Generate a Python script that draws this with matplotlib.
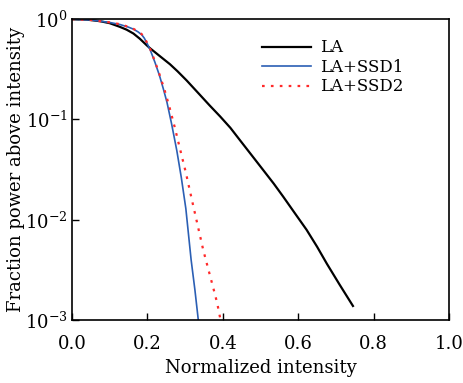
import numpy as np
import matplotlib
matplotlib.use("Agg")
import matplotlib.pyplot as plt

# curves (x: normalized intensity, y: fraction of power above it)
la_x = [0.0, 0.04, 0.074, 0.1, 0.127, 0.145, 0.163, 0.18, 0.198, 0.207, 0.23, 0.26,
        0.28, 0.304, 0.338, 0.365, 0.393, 0.42, 0.446, 0.475, 0.507, 0.535, 0.56,
        0.59, 0.622, 0.65, 0.676, 0.71, 0.745]
la_y = [1.0, 0.989, 0.955, 0.912, 0.838, 0.785, 0.719, 0.638, 0.55, 0.513, 0.437,
        0.355, 0.302, 0.245, 0.178, 0.138, 0.107, 0.0825, 0.0617, 0.0447, 0.0313,
        0.0229, 0.0170, 0.01175, 0.00794, 0.00537, 0.00363, 0.00224, 0.00138]

ssd1_x = [0.0, 0.05, 0.074, 0.1, 0.127, 0.15, 0.163, 0.175, 0.185, 0.192, 0.2,
          0.207, 0.22, 0.232, 0.242, 0.252, 0.264, 0.278, 0.29, 0.302, 0.316, 0.326,
          0.335]
ssd1_y = [1.0, 0.982, 0.955, 0.927, 0.885, 0.832, 0.795, 0.748, 0.70, 0.645, 0.565,
          0.50, 0.372, 0.275, 0.204, 0.148, 0.0912, 0.049, 0.0263, 0.0129, 0.00398,
          0.0020, 0.0010]

ssd2_x = [0.0, 0.05, 0.074, 0.1, 0.127, 0.15, 0.163, 0.175, 0.185, 0.192, 0.2,
          0.207, 0.22, 0.232, 0.245, 0.258, 0.272, 0.285, 0.302, 0.318, 0.333, 0.348,
          0.362, 0.375, 0.385, 0.394]
ssd2_y = [1.0, 0.982, 0.955, 0.929, 0.891, 0.838, 0.80, 0.755, 0.708, 0.652, 0.575,
          0.51, 0.38, 0.282, 0.20, 0.135, 0.0851, 0.0537, 0.0295, 0.0158, 0.00891,
          0.00501, 0.00316, 0.00207, 0.00148, 0.0010]

x_ticks = [0.0, 0.2, 0.4, 0.6, 0.8, 1.0]
y_ticks = [1e-3, 1e-2, 1e-1, 1e0]
y_tick_labels = [r"$10^{-3}$", r"$10^{-2}$", r"$10^{-1}$", r"$10^{0}$"]

plt.rcParams["font.family"] = ["DejaVu Serif"]
plt.rcParams["mathtext.fontset"] = "dejavuserif"

fig = plt.figure(figsize=(4.64, 3.83), dpi=100)
ax = fig.add_axes([0.155, 0.1645, 0.813, 0.7855])

ax.plot(la_x, la_y, color="black", lw=1.6, label="LA")
ax.plot(ssd1_x, ssd1_y, color="#2b5fb4", lw=1.2, label="LA+SSD1")
ax.plot(ssd2_x, ssd2_y, color="#ff2a2a", lw=1.6, linestyle=(0, (1.2, 2.8)),
        label="LA+SSD2")

ax.set_yscale("log")
ax.set_xlim(0, 1)
ax.set_ylim(1e-3, 1)
ax.set_xticks(x_ticks)
ax.set_xticklabels([f"{t:.1f}" for t in x_ticks])
ax.set_yticks(y_ticks)
ax.set_yticklabels(y_tick_labels)
ax.minorticks_off()
ax.tick_params(direction="in", length=5, width=1.0, labelsize=13)
ax.tick_params(axis="x", pad=11)
ax.tick_params(axis="y", pad=3)
for s in ax.spines.values():
    s.set_linewidth(1.2)

ax.set_xlabel("Normalized intensity", fontsize=13, labelpad=4)
ax.set_ylabel("Fraction power above intensity", fontsize=13, labelpad=0)

ax.legend(loc="upper left", bbox_to_anchor=(0.487, 0.955), frameon=False, fontsize=12,
          handlelength=2.9, handletextpad=0.55, labelspacing=0.15, borderaxespad=0)

fig.savefig("out.png", dpi=100)
